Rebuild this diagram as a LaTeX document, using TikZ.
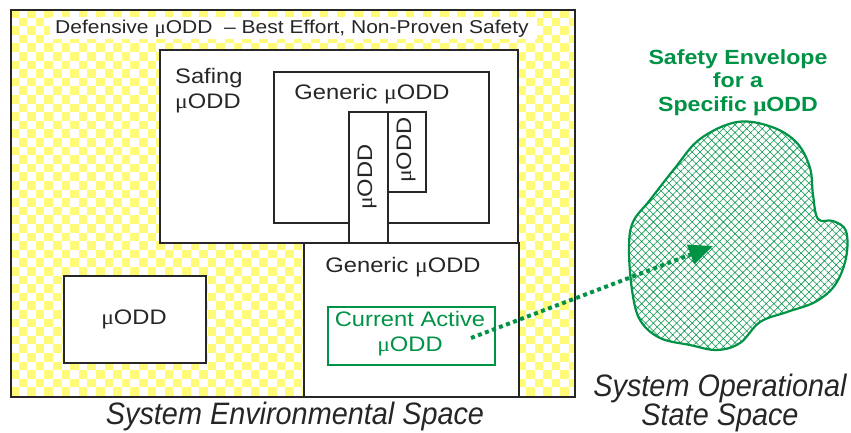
\documentclass[tikz,border=0pt]{standalone}
\usepackage{fontspec}
\setmainfont{Liberation Sans}[FakeStretch=1.13]
\newfontfamily\mufont{Liberation Serif}[FakeStretch=1.13]
\newfontfamily\capfont{Liberation Sans}[FakeStretch=0.93]
\usetikzlibrary{arrows.meta,patterns.meta}
\definecolor{grn}{RGB}{0,146,69}
\definecolor{chk}{RGB}{255,250,120}
\newcommand{\uu}{{\mufont μ}}
\tikzset{
  box/.style={draw=black!85, line width=2.4pt, fill=white, inner sep=0pt, anchor=north west},
  lbl/.style={inner sep=0pt, font=\fontsize{21}{25}\selectfont, text=black!85},
  captxt/.style={inner sep=0pt, font=\capfont\itshape\fontsize{31}{28.5}\selectfont, text=black!85, align=center},
}
\begin{document}
\begin{tikzpicture}[x=1pt,y=-1pt]
\useasboundingbox (0,0) rectangle (851,432);
% outer shadow
\fill[black!80, rounded corners=1.5pt] (11.5,10.5) rectangle (575.5,397.5);
% checkerboard
\begin{scope}
\clip (10,9) rectangle (574,396);
\fill[white] (10,9) rectangle (574,396);
\foreach \j in {0,2,...,46}
  \foreach \i in {0,2,...,66} {
    \fill[chk] (10+\i*8.6, 9+\j*8.6) rectangle +(8.6,8.6);
    \fill[chk] (10+\i*8.6+8.6, 9+\j*8.6+8.6) rectangle +(8.6,8.6);
  }
\end{scope}
% title band
\node[fill=white, inner sep=0pt, minimum width=487pt, minimum height=22pt, anchor=north west] (titlebg) at (50,17) {};
\node[lbl, anchor=base west, font=\fontsize{18.6}{22}\selectfont] (title) at (55,33) {Defensive \uu ODD \ – Best Effort, Non-Proven Safety};
% safing
\node[box, minimum width=358pt, minimum height=193pt] (safing) at (159,49) {};
\node[lbl, anchor=base west, align=left] (safingt) at (175,108) {Safing\\[0pt]\uu ODD};
% inner generic
\node[box, minimum width=215pt, minimum height=151pt] (gen1) at (273,71) {};
\node[lbl, anchor=base] (gen1t) at (372,99) {Generic \uu ODD};
% small and tall boxes
\node[box, minimum width=38pt, minimum height=80pt] (small) at (387,111) {};
\node[box, minimum width=39pt, minimum height=131pt] (tall) at (348,111) {};
\node[lbl, rotate=90] (smallt) at (406,150) {\uu ODD};
\node[lbl, rotate=90] (tallt) at (367,177) {\uu ODD};
% lower generic
\node[box, minimum width=215pt, minimum height=154pt] (gen2) at (303,242) {};
\node[lbl, anchor=base] (gen2t) at (403,272) {Generic \uu ODD};
% current active
\node[box, draw=grn, minimum width=167pt, minimum height=58pt] (cur) at (327,306) {};
\node[lbl, text=grn, align=center] (curt) at (410,334) {Current Active\\[0pt]\uu ODD};
% muODD left
\node[box, minimum width=142pt, minimum height=87pt] (mu) at (63,275) {};
\node[lbl] (mut) at (134,319) {\uu ODD};
% outer border on top
\node[box, fill=none, minimum width=564pt, minimum height=387pt] (outer) at (10,9) {};
% blob
\path[draw=grn, line width=2.2pt, pattern={Hatch[angle=45,distance=5.5pt,line width=0.55pt]}, pattern color=grn]
  plot[smooth cycle, tension=0.6] coordinates {
  (737,122) (772,127) (797,143) (810,168) (813,195) (818,219) (833,221) (846,231)
  (846,258) (835,285) (815,302) (787,312) (760,322) (740,343) (717,350) (690,345)
  (660,338) (640,320) (632,290) (629,248) (633,222) (650,200) (675,168) (700,139)};
\node[inner sep=0pt, font=\bfseries\fontsize{20.5}{23.5}\selectfont, text=grn, align=center, anchor=base] (env) at (738,111) {Safety Envelope\\for a\\Specific \uu ODD};
% arrow
\coordinate (a0) at (471,338);
\coordinate (a1) at (713,246);
\draw[grn, line width=4pt, dash pattern=on 4pt off 3.5pt, -{Triangle[length=24pt,width=20pt]}] (a0) -- (a1);
% captions
\node[captxt, anchor=base] (envsp) at (295,424) {System Environmental Space};
\node[captxt, anchor=base] (opsp) at (720,425) {System Operational\\State Space};
\end{tikzpicture}
\end{document}
